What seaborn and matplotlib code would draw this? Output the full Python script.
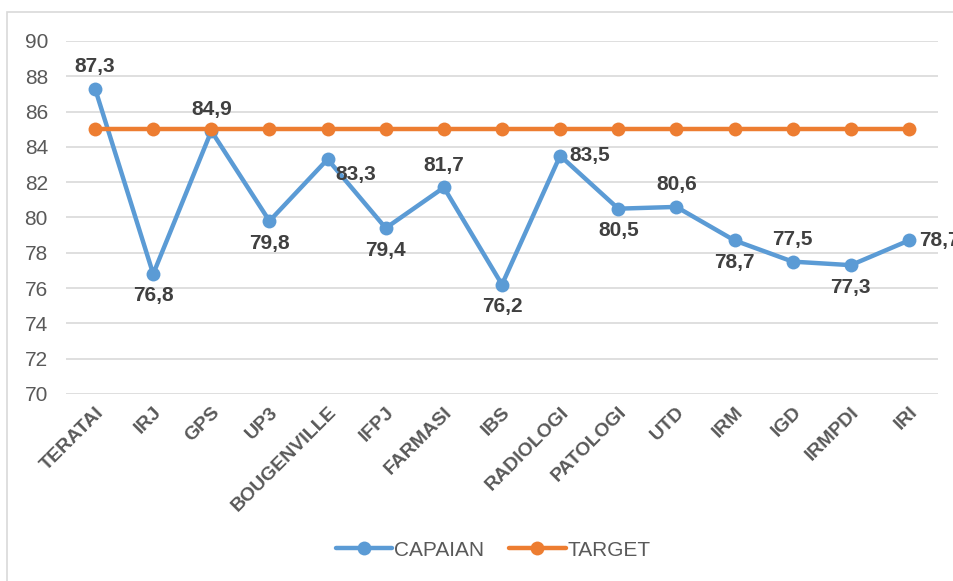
import numpy as np
import pandas as pd
import matplotlib
matplotlib.use('Agg')
import matplotlib.pyplot as plt
import seaborn as sns
from matplotlib.patches import Rectangle

# DATA
units = ["TERATAI", "IRJ", "GPS", "UP3", "BOUGENVILLE", "IFPJ", "FARMASI", "IBS",
         "RADIOLOGI", "PATOLOGI", "UTD", "IRM", "IGD", "IRMPDI", "IRI"]
capaian = [87.3, 76.8, 84.9, 79.8, 83.3, 79.4, 81.7, 76.2, 83.5, 80.5, 80.6, 78.7, 77.5, 77.3, 78.7]
target = [85] * len(units)
# posisi label tiap titik
label_pos = ["above", "below", "above", "below", "belowright", "below", "above", "below",
             "right", "below", "above", "below", "above", "below", "right"]

df = pd.DataFrame({
    "pos": list(range(len(units))) * 2,
    "nilai": capaian + target,
    "seri": ["CAPAIAN"] * len(units) + ["TARGET"] * len(units),
})

sns.set_style("white")
plt.rcParams['font.family'] = ['Liberation Sans', 'DejaVu Sans']

fig = plt.figure(figsize=(9.54, 5.81), dpi=100)
ax = fig.add_axes([66 / 954, 1 - 394 / 581, (938 - 66) / 954, (394 - 41) / 581])

palette = {"CAPAIAN": "#5B9BD5", "TARGET": "#ED7D31"}
sns.lineplot(data=df, x="pos", y="nilai", hue="seri", palette=palette,
             marker="o", markersize=10, markeredgewidth=0, linewidth=3.2,
             sort=False, ax=ax, legend=True)

ax.set_xlim(-0.5, len(units) - 0.5)
ax.set_ylim(70, 90)
ax.set_yticks(np.arange(70, 91, 2))
ax.grid(axis="y", color="#D9D9D9", linewidth=1.2)
ax.set_axisbelow(True)
for s in ax.spines.values():
    s.set_visible(False)
ax.set_xlabel("")
ax.set_ylabel("")
ax.set_xticks(range(len(units)))
ax.set_xticklabels(units, rotation=45, ha="right", rotation_mode="anchor",
                   fontsize=14, fontweight="bold", color="#595959")
ax.tick_params(axis="y", labelsize=15, labelcolor="#595959", length=0, pad=13)
ax.tick_params(axis="x", length=0, pad=7)

offsets = {"above": (0, 9, "center", "bottom"),
           "below": (0, -9, "center", "top"),
           "right": (7, 0, "left", "center"),
           "belowright": (20, -4, "center", "top")}
for i, (v, p) in enumerate(zip(capaian, label_pos)):
    dx, dy, ha, va = offsets[p]
    ax.annotate(f"{v:.1f}".replace(".", ","), (i, v), xytext=(dx, dy),
                textcoords="offset points", ha=ha, va=va,
                fontsize=15, fontweight="bold", color="#404040")

leg = ax.legend(loc="center", bbox_to_anchor=(0.49, 1 - (550 - 41) / (394 - 41)),
                ncol=2, frameon=False, fontsize=15, handlelength=2.7,
                columnspacing=1.2, handletextpad=0.1)
for t in leg.get_texts():
    t.set_color("#595959")

fig.patches.append(Rectangle((7 / 954, -0.02), 1.0, 1 - 12 / 581 + 0.02,
                             transform=fig.transFigure, fill=False,
                             edgecolor="#D9D9D9", linewidth=1.2))

fig.savefig("out.png", dpi=100)
